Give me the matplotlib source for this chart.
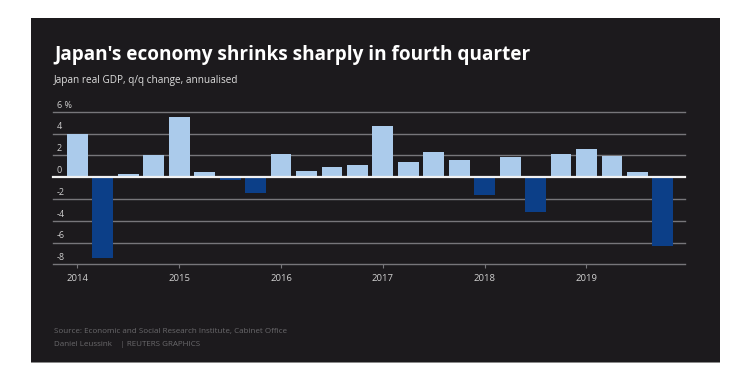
import matplotlib
matplotlib.use("Agg")
import matplotlib.pyplot as plt
from matplotlib.patches import Rectangle
import matplotlib.transforms as mtransforms

plt.rcParams["font.family"] = ["Open Sans", "DejaVu Sans"]

# quarterly real GDP change, annualised, 2014Q1 .. 2019Q4
quarters = [f"{y}Q{q}" for y in range(2014, 2020) for q in range(1, 5)]
gdp = [4.0, -7.4, 0.3, 2.0,
       5.5, 0.5, -0.3, -1.5,
       2.1, 0.6, 0.9, 1.1,
       4.7, 1.4, 2.3, 1.6,
       -1.6, 1.8, -3.2, 2.1,
       2.6, 1.9, 0.5, -6.3]
years = ["2014", "2015", "2016", "2017", "2018", "2019"]
yticks = [-8, -6, -4, -2, 0, 2, 4, 6]

BG = "#1c1a1d"
C_POS, C_NEG = "#abcbeb", "#0c3f88"
C_GRID = "#77767a"

fig = plt.figure(figsize=(7.4, 3.79), dpi=100)
fig.patch.set_facecolor("white")
W, H = 740, 379

# dark panel behind everything
fig.patches.append(Rectangle((31 / W, (H - 362) / H), (720 - 31) / W, (362 - 18) / H,
                             transform=fig.transFigure, facecolor=BG,
                             edgecolor="none", zorder=-5))
fig.patches.append(Rectangle((31 / W, (H - 363) / H), (720 - 31) / W, 1.2 / H,
                             transform=fig.transFigure, facecolor="#8a8a8a",
                             edgecolor="none", zorder=-5))

ax = fig.add_axes([53 / W, (H - 264.3) / H, 632 / W, (264.3 - 111.7) / H])
ax.set_facecolor("none")

x = list(range(len(gdp)))
colors = [C_POS if v >= 0 else C_NEG for v in gdp]
ax.bar(x, gdp, width=0.82, color=colors, zorder=3)

ax.set_xlim(-0.96, 23.87)
ax.set_ylim(-8, 6)

for t in yticks:
    if t == 0:
        ax.axhline(t, color="#f2f2f2", lw=1.6, zorder=4, clip_on=False)
    else:
        ax.axhline(t, color=C_GRID, lw=1.0, zorder=1, clip_on=False)

lab_tr = mtransforms.blended_transform_factory(
    ax.transAxes, mtransforms.offset_copy(ax.transData, fig=fig, x=0, y=1.5, units="points"))
for t in yticks:
    lab = f"{t} %" if t == 6 else str(t)
    ax.text(0.006, t, lab, transform=lab_tr,
            fontsize=6.5, color="#cfcfcf", ha="left", va="bottom")

for s in ax.spines.values():
    s.set_visible(False)
ax.set_yticks([])
ax.set_xticks([i * 4 for i in range(len(years))])
ax.set_xticklabels(years, fontsize=6.8, color="#d0d0d0")
ax.tick_params(axis="x", length=3, width=0.8, color=C_GRID, pad=4)

fig.text(54 / W, (H - 55) / H, "Japan's economy shrinks sharply in fourth quarter",
         fontsize=13.7, fontweight="bold", color="white", va="center", ha="left")
fig.text(54 / W, (H - 80) / H, "Japan real GDP, q/q change, annualised",
         fontsize=7.2, color="#dedede", va="center", ha="left")
fig.text(54 / W, (H - 332) / H, "Source: Economic and Social Research Institute, Cabinet Office",
         fontsize=5.8, color="#6a696c", va="center", ha="left")
fig.text(54 / W, (H - 345) / H, "Daniel Leussink    | REUTERS GRAPHICS",
         fontsize=5.8, color="#6a696c", va="center", ha="left")

fig.savefig("out.png", dpi=100)
